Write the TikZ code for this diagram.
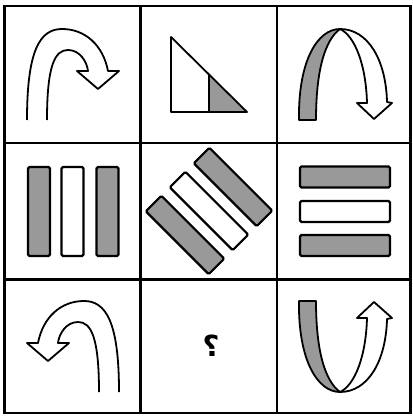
\documentclass[tikz,border=0pt]{standalone}
\usepackage{fontspec}
\newfontfamily\arabicfont[Script=Arabic]{DejaVu Sans}
\TeXXeTstate=1
\definecolor{bargray}{gray}{0.6}
\tikzset{
  gridline/.style={line width=2.6pt},
  curveline/.style={line width=1.8pt, line join=round},
  bar/.style={draw, line width=2.2pt, rounded corners=1.5pt, inner sep=0pt},
  tallbar/.style={bar, minimum width=22pt, minimum height=89pt},
  widebar/.style={bar, minimum width=90pt, minimum height=21pt},
}
% hooked arrow (two strokes, open tail)
\newcommand{\hookarrow}{%
  \draw[curveline] (47,120) .. controls (47,65) and (55,50) .. (68,50)
    .. controls (80,50) and (87,62) .. (88,71) -- (77,71) -- (98,89) -- (119,71) -- (108,71)
    .. controls (103,45) and (85,29) .. (62,29) .. controls (40,29) and (27,50) .. (27,120);}
% twisted ribbon: gray back, white arrow front
\newcommand{\ribbonarrow}{%
  \draw[curveline, fill=white] (340,29) .. controls (368,29) and (386,60) .. (387,102)
    -- (392,103) -- (374,119) -- (357,103) -- (367,103)
    .. controls (366,65) and (355,36) .. (340,29) -- cycle;
  \draw[curveline, fill=bargray] (299,120) .. controls (298,60) and (318,29) .. (340,29)
    .. controls (325,40) and (316,70) .. (316,120) -- cycle;}
\begin{document}
\begin{tikzpicture}[x=1pt, y=-1pt]
\useasboundingbox (0,0) rectangle (412,417);
% grid
\draw[gridline] (4.5,6) rectangle (410.5,413);
\draw[gridline] (140.3,6) -- (140.3,413) (277,6) -- (277,413);
\draw[gridline] (4.5,143) -- (410.5,143) (4.5,279.5) -- (410.5,279.5);
% top row
\hookarrow
\fill[bargray] (209,75) -- (209,112) -- (247,112) -- cycle;
\draw[curveline] (171,37) -- (171,112) -- (247,112) -- cycle (209,75) -- (209,112);
\ribbonarrow
% middle row
\node[tallbar, fill=bargray] (vl) at (39,211.5) {};
\node[tallbar, fill=white] (vm) at (72.5,211.5) {};
\node[tallbar, fill=bargray] (vr) at (107.5,211.5) {};
\node[tallbar, fill=bargray, rotate=45] (dl) at (185,235) {};
\node[tallbar, fill=white, rotate=45] (dm) at (209,211) {};
\node[tallbar, fill=bargray, rotate=45] (dr) at (233,187) {};
\node[widebar, fill=bargray] (ht) at (345,177) {};
\node[widebar, fill=white] (hm) at (345,211.5) {};
\node[widebar, fill=bargray] (hb) at (345,245.5) {};
% bottom row
\begin{scope}[shift={(146,272)}, xscale=-1]
\hookarrow
\end{scope}
\node (q) at (211,346) {\fontsize{29}{34}\selectfont\bfseries\arabicfont\beginR ؟\endR};
\begin{scope}[shift={(0,421)}, yscale=-1]
\ribbonarrow
\end{scope}
\end{tikzpicture}
\end{document}
